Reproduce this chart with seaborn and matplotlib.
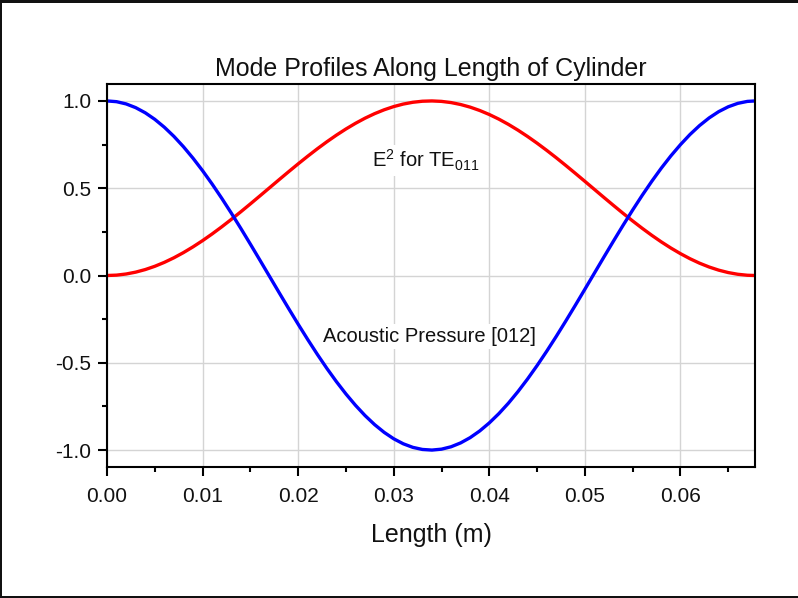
import numpy as np
import pandas as pd
import matplotlib
matplotlib.use("Agg")
import matplotlib.pyplot as plt
from matplotlib.ticker import MultipleLocator, FormatStrFormatter
from matplotlib.patches import Rectangle
import seaborn as sns

length_m = [0.000, 0.001, 0.002, 0.003, 0.004, 0.005, 0.006, 0.007, 0.008, 0.009,
            0.010, 0.011, 0.012, 0.013, 0.014, 0.015, 0.016, 0.017, 0.018, 0.019,
            0.020, 0.021, 0.022, 0.023, 0.024, 0.025, 0.026, 0.027, 0.028, 0.029,
            0.030, 0.031, 0.032, 0.033, 0.034, 0.035, 0.036, 0.037, 0.038, 0.039,
            0.040, 0.041, 0.042, 0.043, 0.044, 0.045, 0.046, 0.047, 0.048, 0.049,
            0.050, 0.051, 0.052, 0.053, 0.054, 0.055, 0.056, 0.057, 0.058, 0.059,
            0.060, 0.061, 0.062, 0.063, 0.064, 0.065, 0.066, 0.067, 0.0678]
acoustic_pressure = [1.0000, 0.9957, 0.9829, 0.9616, 0.9321, 0.8946, 0.8494, 0.7970, 0.7376, 0.6719,
                     0.6004, 0.5239, 0.4428, 0.3579, 0.2700, 0.1797, 0.0879, -0.0046, -0.0972, -0.1888,
                     -0.2789, -0.3665, -0.4511, -0.5318, -0.6078, -0.6786, -0.7436, -0.8024, -0.8542, -0.8986,
                     -0.9354, -0.9641, -0.9845, -0.9965, -1.0000, -0.9948, -0.9811, -0.9590, -0.9287, -0.8904,
                     -0.8444, -0.7913, -0.7314, -0.6650, -0.5930, -0.5159, -0.4344, -0.3493, -0.2610, -0.1706,
                     -0.0787, 0.0139, 0.1064, 0.1979, 0.2878, 0.3752, 0.4594, 0.5396, 0.6153, 0.6854,
                     0.7496, 0.8079, 0.8590, 0.9027, 0.9387, 0.9665, 0.9861, 0.9973, 1.0000]
e_squared = [0.0000, 0.0021, 0.0086, 0.0192, 0.0340, 0.0527, 0.0753, 0.1015, 0.1312, 0.1641,
             0.1998, 0.2381, 0.2786, 0.3211, 0.3650, 0.4102, 0.4561, 0.5023, 0.5486, 0.5944,
             0.6395, 0.6833, 0.7256, 0.7659, 0.8039, 0.8393, 0.8718, 0.9012, 0.9271, 0.9493,
             0.9677, 0.9821, 0.9923, 0.9983, 1.0000, 0.9974, 0.9906, 0.9795, 0.9644, 0.9452,
             0.9222, 0.8957, 0.8657, 0.8325, 0.7965, 0.7580, 0.7172, 0.6747, 0.6305, 0.5853,
             0.5394, 0.4931, 0.4468, 0.4011, 0.3561, 0.3124, 0.2703, 0.2302, 0.1924, 0.1573,
             0.1252, 0.0961, 0.0705, 0.0487, 0.0307, 0.0168, 0.0070, 0.0014, 0.0000]

title = "Mode Profiles Along Length of Cylinder"
xlabel = "Length (m)"
label_e = r"E$^2$ for TE$_{011}$"
label_p = "Acoustic Pressure [012]"

sns.set_style("white")
plt.rcParams["font.family"] = ["Liberation Sans", "DejaVu Sans"]
plt.rcParams["axes.unicode_minus"] = False
plt.rcParams["mathtext.fontset"] = "custom"
plt.rcParams["mathtext.rm"] = "Liberation Sans"
plt.rcParams["mathtext.it"] = "Liberation Sans"

df = pd.DataFrame({"x": length_m, "p": acoustic_pressure, "e": e_squared})

fig = plt.figure(figsize=(7.98, 5.98), dpi=100)
ax = fig.add_axes([107/798, 1-467/598, (755-107)/798, (467-84)/598])

sns.lineplot(data=df, x="x", y="e", color="#ff0000", linewidth=2.4, ax=ax, zorder=3)
sns.lineplot(data=df, x="x", y="p", color="#0000ff", linewidth=2.4, ax=ax, zorder=3)

ax.set_xlim(0, 0.0678)
ax.set_ylim(-1.097, 1.097)
ax.xaxis.set_major_locator(MultipleLocator(0.01))
ax.xaxis.set_minor_locator(MultipleLocator(0.005))
ax.yaxis.set_major_locator(MultipleLocator(0.5))
ax.yaxis.set_minor_locator(MultipleLocator(0.25))
ax.xaxis.set_major_formatter(FormatStrFormatter("%.2f"))
ax.yaxis.set_major_formatter(FormatStrFormatter("%.1f"))

ax.grid(True, which="major", color="#d4d4d4", linewidth=1.0, zorder=0)
ax.set_axisbelow(True)
for s in ax.spines.values():
    s.set_color("black")
    s.set_linewidth(1.5)
    s.set_zorder(4)

ax.tick_params(axis="x", which="major", pad=8)
ax.tick_params(axis="y", which="major", pad=5)
ax.tick_params(axis="both", which="major", direction="out", length=6.5, width=1.5,
               color="black", labelsize=15, bottom=True, left=True,
               top=False, right=False, labelcolor="#111111")
ax.tick_params(axis="both", which="minor", direction="out", length=3.5, width=1.5,
               color="black", bottom=True, left=True, top=False, right=False)

ax.set_xlabel(xlabel, fontsize=18, labelpad=12, color="#111111")
ax.set_ylabel("")
ax.set_title(title, fontsize=18, pad=6, color="#111111")

bbox = dict(boxstyle="square,pad=0.15", facecolor="white", edgecolor="none")
ax.text(0.0333, 0.66, label_e, fontsize=14.5, ha="center", va="center",
        bbox=bbox, zorder=5, color="#111111")
ax.text(0.0337, -0.35, label_p, fontsize=14.5, ha="center", va="center",
        bbox=bbox, zorder=5, color="#111111")

# figure border (top, left, bottom)
fig.patches.append(Rectangle((0, 1-3/598), 1, 3/598, transform=fig.transFigure,
                             facecolor="#111111", edgecolor="none"))
fig.patches.append(Rectangle((0, 0), 2/798, 1, transform=fig.transFigure,
                             facecolor="#111111", edgecolor="none"))
fig.patches.append(Rectangle((0, 0), 1, 2/598, transform=fig.transFigure,
                             facecolor="#111111", edgecolor="none"))

fig.savefig("out.png", dpi=100)
